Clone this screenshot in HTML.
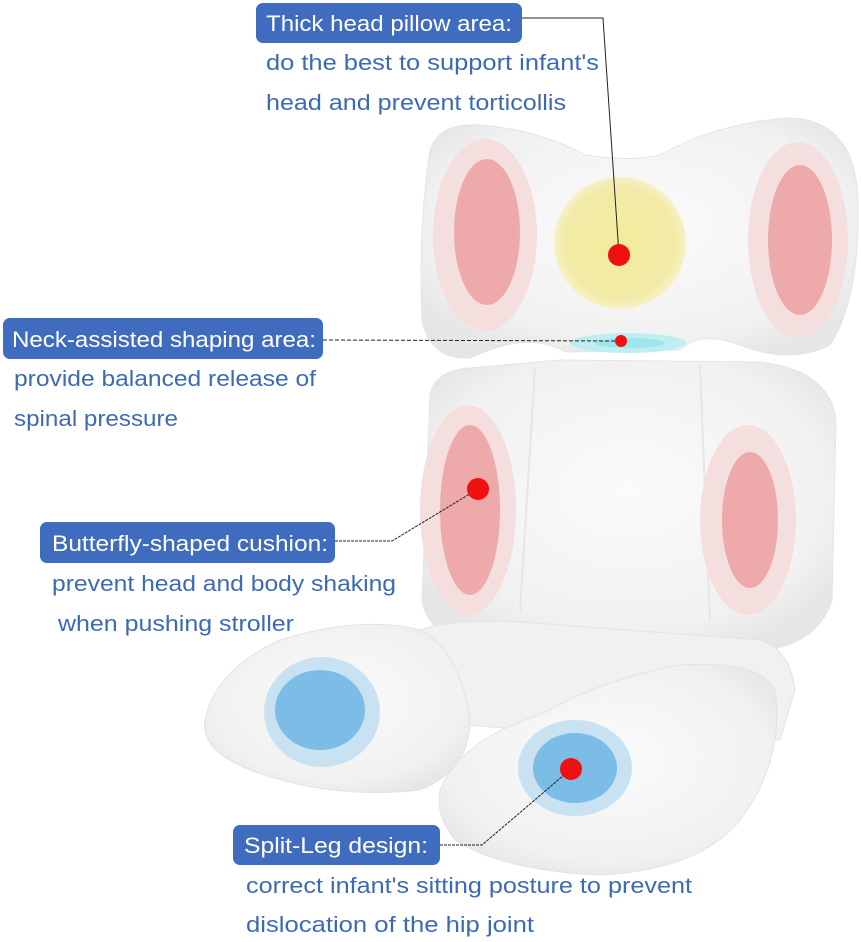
<!DOCTYPE html>
<html><head><meta charset="utf-8"><style>
html,body{margin:0;padding:0;background:#fff;}
svg{display:block;}
.t{font-family:"Liberation Sans","DejaVu Sans",sans-serif;font-size:22px;}
.h{fill:#fff;}
.b{fill:#3d6ab5;}
</style></head><body>
<svg width="861" height="942" viewBox="0 0 861 942" xmlns="http://www.w3.org/2000/svg">
<defs>
<radialGradient id="g" cx="50%" cy="45%" r="60%"><stop offset="0" stop-color="#fbfbfb"/><stop offset="0.8" stop-color="#f1f1f1"/><stop offset="1" stop-color="#e6e6e6"/></radialGradient>
<radialGradient id="y" cx="50%" cy="50%" r="50%"><stop offset="0" stop-color="#f3ec9c"/><stop offset="0.85" stop-color="#f2eba8"/><stop offset="1" stop-color="#f6f1c8"/></radialGradient>
</defs>
<path d="M430 150 Q440 122 480 125 Q540 130 585 155 Q630 162 660 155 Q720 122 790 118 Q855 120 858 200 Q860 300 830 345 Q790 365 740 345 Q700 330 680 350 L565 352 Q530 330 470 358 Q430 360 422 320 Q418 230 430 150Z" fill="url(#g)" stroke="#e5e5e5"/>
<path d="M430 395 Q435 370 470 368 L560 360 L760 362 Q830 370 836 420 L832 600 Q820 640 770 650 L520 650 Q430 650 422 600 Z" fill="url(#g)" stroke="#e5e5e5"/>
<line x1="535" y1="368" x2="520" y2="612" stroke="#e6e6e6" stroke-width="2"/>
<line x1="700" y1="366" x2="710" y2="620" stroke="#e6e6e6" stroke-width="2"/>
<path d="M420 630 Q460 615 560 625 L760 640 Q790 650 795 690 L780 740 Q720 735 640 740 L470 725 Q420 700 420 630Z" fill="#f1f1f1" stroke="#e3e3e3"/>
<path d="M205 720 Q215 670 280 640 Q360 615 420 630 Q460 650 470 720 Q470 770 420 790 Q330 800 250 770 Q200 750 205 720Z" fill="url(#g)" stroke="#e3e3e3"/>
<path d="M440 790 Q460 740 540 715 Q600 680 680 665 Q760 660 775 690 Q785 760 740 820 Q700 870 600 875 Q500 870 455 840 Q435 815 440 790Z" fill="url(#g)" stroke="#e3e3e3"/>
<ellipse cx="485" cy="235" rx="52" ry="96" fill="#f5dede"/>
<ellipse cx="487" cy="232" rx="33" ry="73" fill="#eeaaaa"/>
<ellipse cx="798" cy="240" rx="50" ry="98" fill="#f5dede"/>
<ellipse cx="800" cy="240" rx="32" ry="75" fill="#eeaaaa"/>
<circle cx="620" cy="243" r="66" fill="url(#y)"/>
<ellipse cx="628" cy="343" rx="58" ry="10" fill="#bfeef2"/>
<ellipse cx="630" cy="343" rx="35" ry="5" fill="#9fe6ec"/>
<ellipse cx="468" cy="510" rx="48" ry="105" fill="#f5dede"/>
<ellipse cx="470" cy="510" rx="30" ry="85" fill="#eeaaaa"/>
<ellipse cx="748" cy="520" rx="48" ry="95" fill="#f5dede"/>
<ellipse cx="750" cy="520" rx="28" ry="68" fill="#eeaaaa"/>
<ellipse cx="322" cy="712" rx="58" ry="55" fill="#c9e2f2"/>
<ellipse cx="320" cy="710" rx="45" ry="40" fill="#7bbde6"/>
<ellipse cx="575" cy="768" rx="57" ry="48" fill="#c9e2f2"/>
<ellipse cx="575" cy="768" rx="42" ry="35" fill="#7bbde6"/>
<g stroke="#222" stroke-width="1" fill="none">
<polyline points="522,18 603,18 619,255"/>
<line x1="323" y1="340" x2="621" y2="341" stroke-dasharray="4,2"/>
<polyline points="335,541 392,541 478,489" stroke-dasharray="3,1"/>
<polyline points="440,845 482,845 571,769" stroke-dasharray="3,1"/>
</g>
<circle cx="619" cy="255" r="11" fill="#f01010"/>
<circle cx="621" cy="341" r="6" fill="#f01010"/>
<circle cx="478" cy="489" r="11" fill="#f01010"/>
<circle cx="571" cy="769" r="11" fill="#f01010"/>
<rect x="256" y="3" width="266" height="40" rx="7" fill="#3f6cbf"/>
<text class="t h" x="266" y="31" textLength="246" lengthAdjust="spacingAndGlyphs">Thick head pillow area:</text>
<text class="t b" x="266" y="70" textLength="333" lengthAdjust="spacingAndGlyphs">do the best to support infant's</text>
<text class="t b" x="266" y="110" textLength="300" lengthAdjust="spacingAndGlyphs">head and prevent torticollis</text>
<rect x="3" y="318" width="320" height="41" rx="7" fill="#3f6cbf"/>
<text class="t h" x="12" y="347" textLength="304" lengthAdjust="spacingAndGlyphs">Neck-assisted shaping area:</text>
<text class="t b" x="14" y="386" textLength="302" lengthAdjust="spacingAndGlyphs">provide balanced release of</text>
<text class="t b" x="14" y="426" textLength="164" lengthAdjust="spacingAndGlyphs">spinal pressure</text>
<rect x="40" y="522" width="295" height="41" rx="7" fill="#3f6cbf"/>
<text class="t h" x="52" y="551" textLength="276" lengthAdjust="spacingAndGlyphs">Butterfly-shaped cushion:</text>
<text class="t b" x="52" y="591" textLength="344" lengthAdjust="spacingAndGlyphs">prevent head and body shaking</text>
<text class="t b" x="58" y="631" textLength="236" lengthAdjust="spacingAndGlyphs">when pushing stroller</text>
<rect x="233" y="825" width="207" height="40" rx="7" fill="#3f6cbf"/>
<text class="t h" x="244" y="853" textLength="184" lengthAdjust="spacingAndGlyphs">Split-Leg design:</text>
<text class="t b" x="246" y="893" textLength="446" lengthAdjust="spacingAndGlyphs">correct infant's sitting posture to prevent</text>
<text class="t b" x="246" y="932" textLength="288" lengthAdjust="spacingAndGlyphs">dislocation of the hip joint</text>
</svg>
</body></html>
